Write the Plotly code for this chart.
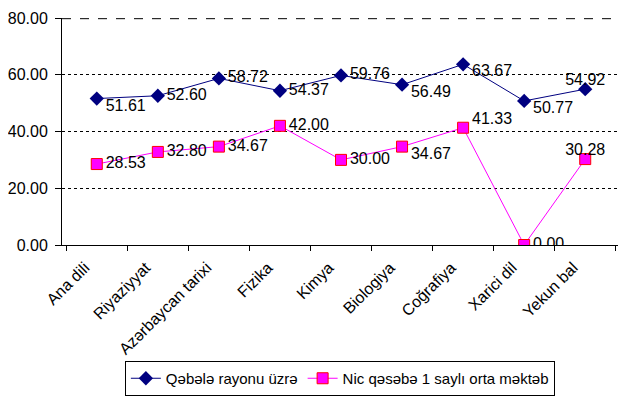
import plotly.graph_objects as go

categories = ["Ana dili", "Riyaziyyat", "Azərbaycan tarixi", "Fizika", "Kimya",
              "Biologiya", "Coğrafiya", "Xarici dil", "Yekun bal"]
series_a_name = "Qəbələ rayonu üzrə"
series_a = [51.61, 52.60, 58.72, 54.37, 59.76, 56.49, 63.67, 50.77, 54.92]
series_b_name = "Nic qəsəbə 1 saylı orta məktəb"
series_b = [28.53, 32.80, 34.67, 42.00, 30.00, 34.67, 41.33, 0.00, 30.28]
y_ticks = [0, 20, 40, 60, 80]
y_range = [0, 80]

pos_a = ["bottom right", "middle right", "middle right", "middle right", "middle right",
         "bottom right", "bottom right", "bottom right", "top center"]
pos_b = ["middle right", "middle right", "middle right", "middle right", "middle right",
         "bottom right", "top right", "middle right", "top center"]

FONT = "Liberation Sans, Arial, sans-serif"


def lab(v, pos):
    return ("  " if "right" in pos else "") + f"{v:.2f}"


fig = go.Figure()
fig.add_trace(go.Scatter(
    x=categories, y=series_a, name=series_a_name, mode="lines+markers",
    line=dict(color="#000080", width=1),
    marker=dict(symbol="diamond", size=11, color="#000080", line=dict(width=0)),
))
fig.add_trace(go.Scatter(
    x=categories, y=series_b, name=series_b_name, mode="lines+markers",
    line=dict(color="#FF00FF", width=1),
    marker=dict(symbol="square", size=11, color="#FF00FF", line=dict(color="#FF0000", width=1)),
))
fig.add_trace(go.Scatter(
    x=categories, y=series_a, mode="text", showlegend=False, hoverinfo="skip",
    text=[lab(v, p) for v, p in zip(series_a, pos_a)], textposition=pos_a,
    textfont=dict(family=FONT, size=16, color="black"),
))
fig.add_trace(go.Scatter(
    x=categories, y=series_b, mode="text", showlegend=False, hoverinfo="skip",
    text=[lab(v, p) for v, p in zip(series_b, pos_b)], textposition=pos_b,
    textfont=dict(family=FONT, size=16, color="black"),
))

# gridline at the top of the plot area (plotly skips gridlines at the range edge)
fig.add_shape(type="line", xref="paper", yref="paper", x0=0, x1=1, y0=0.997, y1=0.997,
              line=dict(color="black", width=1, dash="dash"), layer="above")

# page body has an 8px margin, so the figure is 8px smaller than the window
fig.update_layout(
    width=618, height=388,
    margin=dict(l=54, r=6, t=10, b=151, autoexpand=False),
    paper_bgcolor="white", plot_bgcolor="white",
    font=dict(family=FONT, size=15, color="black"),
    legend=dict(
        orientation="h", xref="container", yref="container",
        x=0.537, xanchor="center", y=0.0, yanchor="bottom",
        bordercolor="black", borderwidth=1, bgcolor="white",
        font=dict(family=FONT, size=15), itemwidth=30,
    ),
)
fig.update_xaxes(
    type="category", tickangle=-45, tickson="boundaries", automargin=False,
    showline=True, linecolor="black", linewidth=1,
    ticks="outside", ticklen=5, tickcolor="black",
    ticklabelshift=-12, ticklabelstandoff=6,
    showgrid=False, tickfont=dict(family=FONT, size=16),
)
fig.update_yaxes(
    range=y_range, tickvals=y_ticks, tickformat=".2f", automargin=False,
    showline=True, linecolor="black", linewidth=1,
    ticks="outside", ticklen=6, tickcolor="black", ticklabelstandoff=4,
    showgrid=True, gridcolor="black", gridwidth=1, griddash="3px,3px",
    zeroline=False, tickfont=dict(family=FONT, size=16),
)

fig.write_html("out.html")
